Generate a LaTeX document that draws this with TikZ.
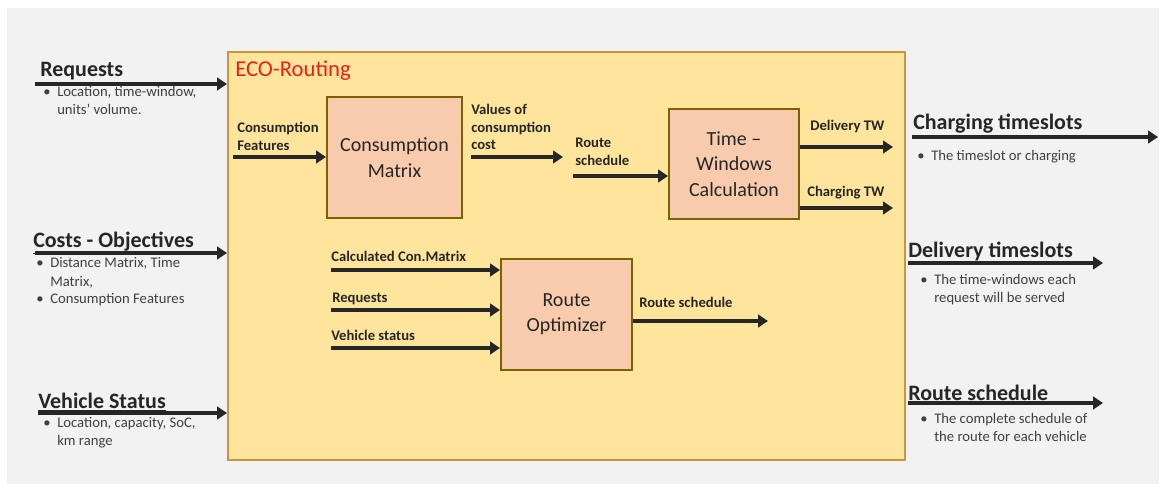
\documentclass[tikz,border=0pt]{standalone}
\usepackage{fontspec}
\setmainfont{Carlito}
\usetikzlibrary{arrows.meta, positioning}

\definecolor{bggray}{HTML}{F2F2F2}
\definecolor{ecofill}{HTML}{FFE59C}
\definecolor{ecoline}{HTML}{C8963E}
\definecolor{ecored}{HTML}{E8201A}
\definecolor{blkfill}{HTML}{F8CBAD}
\definecolor{blkline}{HTML}{7F6000}
\definecolor{ink}{HTML}{262626}
\definecolor{notegray}{HTML}{404040}

\newcommand{\labellines}[1]{\begin{tabular}[t]{@{}l@{}}#1\end{tabular}}
\newcommand{\bu}{\makebox[10.5pt][l]{\textbullet}}
\newcommand{\nobu}{\hspace{10.5pt}}

\begin{document}
\begin{tikzpicture}[
    x=0.75pt, y=-0.75pt,
    font=\fontsize{11}{13.5}\selectfont,
    ecobox/.style={draw=ecoline, fill=ecofill, line width=1.5pt,
                   minimum width=507.75pt, minimum height=306pt, inner sep=0pt},
    procbox/.style={draw=blkline, fill=blkfill, line width=1.5pt,
                    align=center, inner sep=0pt, text=ink,
                    font=\fontsize{15}{19}\selectfont},
    head/.style={anchor=base west, inner sep=0pt, text=ink,
                 font=\fontsize{16.5}{20}\selectfont\bfseries},
    note/.style={anchor=base west, inner sep=0pt, text=notegray,
                 font=\fontsize{11}{13.5}\selectfont},
    flowlbl/.style={anchor=base west, inner sep=0pt, text=ink,
                    font=\fontsize{11}{13}\selectfont\bfseries},
    flow/.style={-{Triangle[length=7.5pt,width=9.5pt]}, line width=3pt, draw=ink},
]

% --- background ---
\useasboundingbox (0,0) rectangle (1166,491);
\fill[bggray] (7,8) rectangle (1159,484);

% --- ECO-Routing frame ---
\node[ecobox] (eco) at (566.5,256) {};
\node[anchor=base west, inner sep=0pt, text=ecored,
      font=\fontsize{17}{20}\selectfont] (ecotitle) at (235,77) {ECO-Routing};

% --- inputs (left) ---
\node[head] (reqhead) at (40,77) {\underline{Requests}};
\node[note] (reqnote) at (43,97) {\labellines{\bu Location, time-window,\\ \nobu units' volume.}};
\coordinate (reqin) at (35,84);

\node[head] (costhead) at (33,248) {\underline{Costs - Objectives}};
\node[note] (costnote) at (36,268) {\labellines{\bu Distance Matrix, Time\\ \nobu Matrix,\\ \bu Consumption Features}};
\coordinate (costin) at (35,253);

\node[head] (vehhead) at (38,408) {\underline{Vehicle Status}};
\node[note] (vehnote) at (43,427) {\labellines{\bu Location, capacity, SoC,\\ \nobu km range}};
\coordinate (vehin) at (38,413);

% --- outputs (right) ---
\node[head] (chghead) at (913,130) {\underline{Charging timeslots}};
\node[note] (chgnote) at (917,161) {\labellines{\bu The timeslot or charging}};
\coordinate (chgfrom) at (912,137);
\coordinate (chgto) at (1158,137);

\node[head] (delhead) at (908,258) {\underline{Delivery timeslots}};
\node[note] (delnote) at (920,285) {\labellines{\bu The time-windows each\\ \nobu request will be served}};
\coordinate (delfrom) at (908,263);
\coordinate (delto) at (1103,263);

\node[head] (rschead) at (908,400) {\underline{Route schedule}};
\node[note] (rscnote) at (920,423) {\labellines{\bu The complete schedule of\\ \nobu the route for each vehicle}};
\coordinate (rscfrom) at (908,403);
\coordinate (rscto) at (1103,403);

% --- processing blocks ---
\node[procbox, minimum width=101.25pt, minimum height=90.75pt] (cm) at (394.5,157.5) {Consumption\\Matrix};
\node[procbox, minimum width=97.5pt, minimum height=82.5pt] (tw) at (734,164) {Time --\\Windows\\Calculation};
\node[procbox, minimum width=98.25pt, minimum height=83.25pt] (ro) at (566.5,314.5) {Route\\Optimizer};

% --- flow labels ---
\node[flowlbl] (cflbl) at (237,133) {\labellines{Consumption\\Features}};
\node[flowlbl] (vallbl) at (471,115) {\labellines{Values of\\consumption\\cost}};
\node[flowlbl] (rslbl) at (575,148) {\labellines{Route\\schedule}};
\node[flowlbl] (dtwlbl) at (810,131) {Delivery TW};
\node[flowlbl] (ctwlbl) at (807,197) {Charging TW};
\node[flowlbl] (ccmlbl) at (331,262) {Calculated Con.Matrix};
\node[flowlbl] (rqlbl) at (332,303) {Requests};
\node[flowlbl] (vslbl) at (331,340) {Vehicle status};
\node[flowlbl] (rolbl) at (639,308) {Route schedule};

\coordinate (cfin) at (233,157);
\coordinate (valout) at (563,157);
\coordinate (rsin) at (573,176);
\coordinate (dtwout) at (893,147);
\coordinate (ctwout) at (893,208);
\coordinate (ccmin) at (331,270);
\coordinate (rqin) at (331,310);
\coordinate (vsin) at (331,348);
\coordinate (roout) at (768,321);

% --- relationships ---
\draw[flow] (reqin) -- (reqin -| eco.west);
\draw[flow] (costin) -- (costin -| eco.west);
\draw[flow] (vehin) -- (vehin -| eco.west);
\draw[flow] (chgfrom) -- (chgto);
\draw[flow] (delfrom) -- (delto);
\draw[flow] (rscfrom) -- (rscto);

\draw[flow] (cfin) -- (cfin -| cm.west);
\draw[flow] ([xshift=6pt]valout -| cm.east) -- (valout);
\draw[flow] (rsin) -- (rsin -| tw.west);
\draw[flow] (dtwout -| tw.east) -- (dtwout);
\draw[flow] (ctwout -| tw.east) -- (ctwout);
\draw[flow] (ccmin) -- (ccmin -| ro.west);
\draw[flow] (rqin) -- (rqin -| ro.west);
\draw[flow] (vsin) -- (vsin -| ro.west);
\draw[flow] (roout -| ro.east) -- (roout);

\end{tikzpicture}
\end{document}
